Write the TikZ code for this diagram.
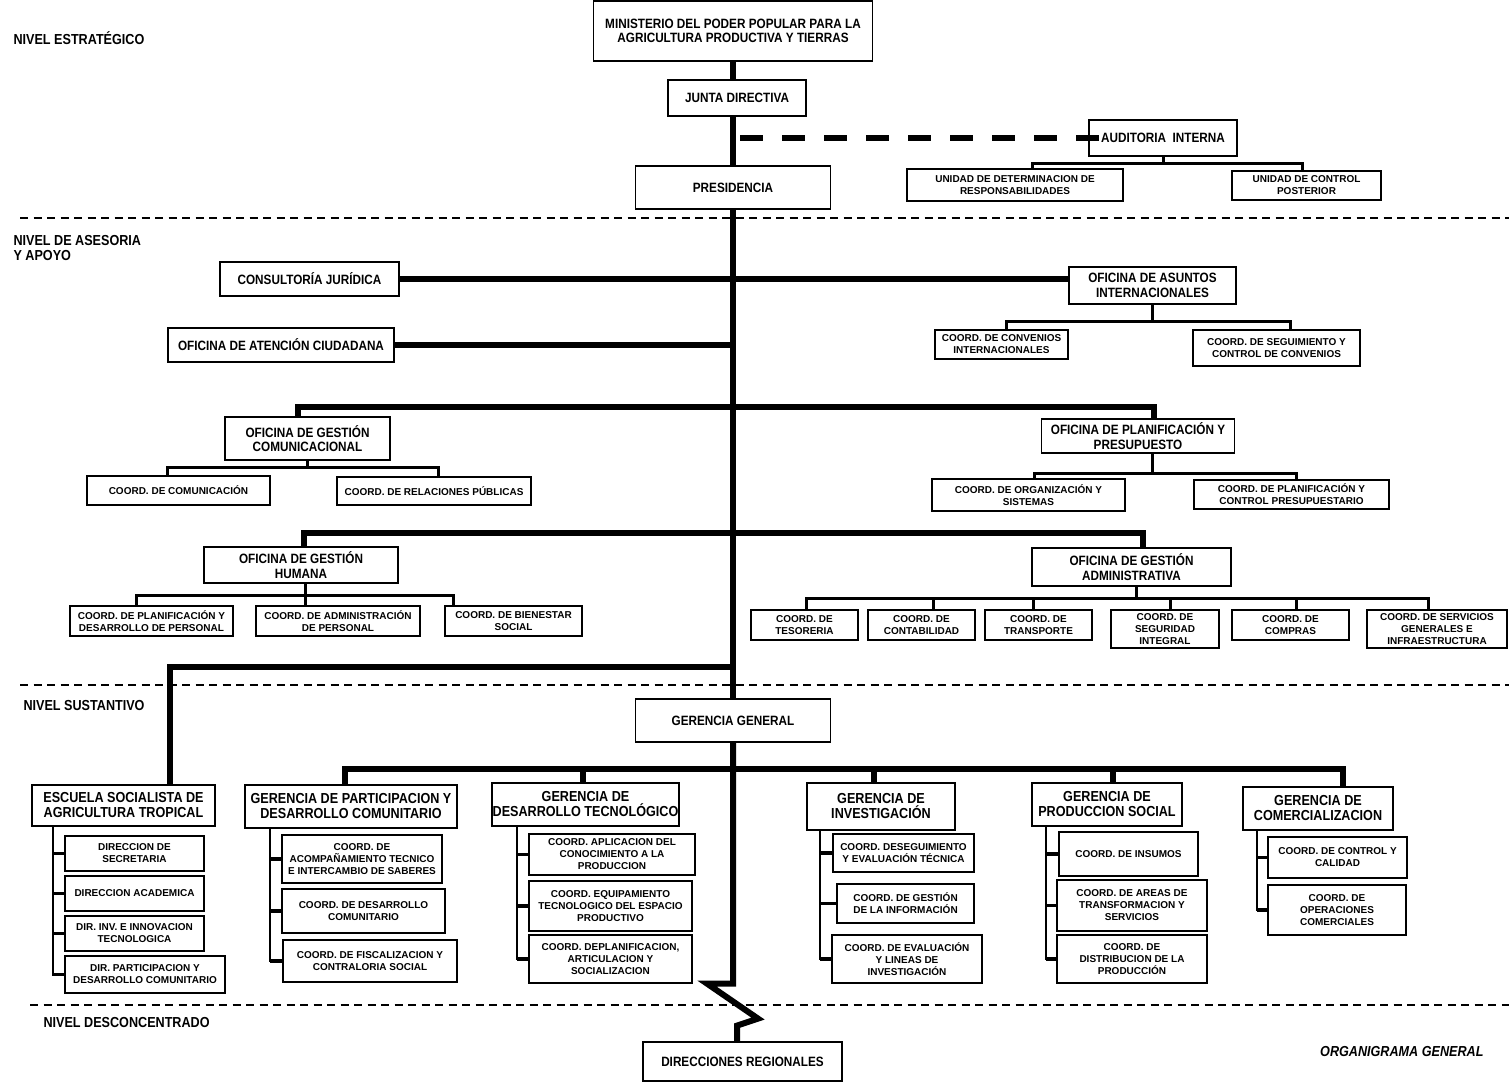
\documentclass[tikz,border=0pt]{standalone}
\usepackage{fontspec}
\setmainfont{Liberation Sans}
\newfontfamily\condensed{Liberation Sans}[FakeStretch=0.87]
\tikzset{
  unitbox/.style={
    draw,
    line width=1.2pt,
    fill=white,
    align=center,
    inner sep=0pt,
    font=\condensed\bfseries\fontsize{13.5}{14.5}\selectfont
  },
  gerbox/.style={
    unitbox,
    font=\condensed\bfseries\fontsize{14.5}{15}\selectfont
  },
  coordbox/.style={
    draw,
    line width=1.2pt,
    fill=white,
    align=center,
    inner sep=0pt,
    font=\bfseries\fontsize{10}{12}\selectfont
  },
  boxsize/.style 2 args={minimum width=#1pt, minimum height=#2pt},
  trunk/.style={line width=6pt},
  branch/.style={line width=3pt},
  stem/.style={line width=2.5pt},
  tick/.style={line width=3.5pt},
  auditlink/.style={line width=6pt, dash pattern=on 23pt off 19pt},
  levelline/.style={line width=1.6pt, dash pattern=on 8pt off 5.5pt},
  levellabel/.style={
    anchor=west,
    align=left,
    font=\condensed\bfseries\fontsize{14.5}{15.5}\selectfont
  }
}
\begin{document}
\begin{tikzpicture}[x=1pt, y=-1pt]
\useasboundingbox (0,0) rectangle (1509,1083);

% niveles
\draw[levelline] (20,218) -- (1509,218);
\draw[levelline] (20,685) -- (1509,685);
\draw[levelline] (30,1005) -- (1509,1005);
\node[levellabel] (lvlest) at (10,38) {NIVEL ESTRATÉGICO};
\node[levellabel] (lvlase) at (10,248) {NIVEL DE ASESORIA\\Y APOYO};
\node[levellabel] (lvlsus) at (20,706) {NIVEL SUSTANTIVO};
\node[levellabel] (lvldes) at (40,1022) {NIVEL DESCONCENTRADO};
\node[levellabel, anchor=east, font=\condensed\bfseries\itshape\fontsize{14.5}{15.5}\selectfont] (orglabel) at (1487,1051) {ORGANIGRAMA GENERAL};

% nivel estrategico
\node[unitbox, boxsize={279}{60}] (minis) at (733,31) {MINISTERIO DEL PODER POPULAR PARA LA\\AGRICULTURA PRODUCTIVA Y TIERRAS};
\node[unitbox, boxsize={138}{36}] (junta) at (737,98) {JUNTA DIRECTIVA};
\node[unitbox, boxsize={195}{43}] (pres) at (733,187.5) {PRESIDENCIA};
\node[unitbox, boxsize={148}{36}] (audit) at (1163,138) {AUDITORIA\ \ INTERNA};
\node[coordbox, boxsize={216}{32}] (udet) at (1015,185) {UNIDAD DE DETERMINACION DE\\RESPONSABILIDADES};
\node[coordbox, boxsize={149}{29}] (uctrl) at (1306.5,185.5) {UNIDAD DE CONTROL\\POSTERIOR};

% nivel de asesoria y apoyo
\node[unitbox, boxsize={179}{34}] (cjur) at (309.5,279) {CONSULTORÍA JURÍDICA};
\node[unitbox, boxsize={167}{37}] (oai) at (1152.5,285.5) {OFICINA DE ASUNTOS\\INTERNACIONALES};
\node[coordbox, boxsize={133}{29}] (cconv) at (1001.5,344.5) {COORD. DE CONVENIOS\\INTERNACIONALES};
\node[coordbox, boxsize={167}{36}] (cseg) at (1276.5,348) {COORD. DE SEGUIMIENTO Y\\CONTROL DE CONVENIOS};
\node[unitbox, boxsize={226}{34}] (oac) at (281,345) {OFICINA DE ATENCIÓN CIUDADANA};

\node[unitbox, boxsize={165}{43}] (ogc) at (307.5,438.5) {OFICINA DE GESTIÓN\\COMUNICACIONAL};
\node[coordbox, boxsize={183}{29}] (ccom) at (178.5,490.5) {COORD. DE COMUNICACIÓN};
\node[coordbox, boxsize={194}{28}] (crp) at (434,491) {COORD. DE RELACIONES PÚBLICAS};
\node[unitbox, boxsize={193}{34}] (opp) at (1138,436) {OFICINA DE PLANIFICACIÓN Y\\PRESUPUESTO};
\node[coordbox, boxsize={193}{32}] (corg) at (1028.5,495) {COORD. DE ORGANIZACIÓN Y\\SISTEMAS};
\node[coordbox, boxsize={195}{29}] (cpcp) at (1291.5,494.5) {COORD. DE PLANIFICACIÓN Y\\CONTROL PRESUPUESTARIO};

\node[unitbox, boxsize={194}{36}] (ogh) at (301,565) {OFICINA DE GESTIÓN\\HUMANA};
\node[coordbox, boxsize={163}{30}] (cpdp) at (151.5,621) {COORD. DE PLANIFICACIÓN Y\\DESARROLLO DE PERSONAL};
\node[coordbox, boxsize={164}{30}] (cadp) at (338,621) {COORD. DE ADMINISTRACIÓN\\DE PERSONAL};
\node[coordbox, boxsize={137}{30}] (cbs) at (513.5,621) {COORD. DE BIENESTAR\\SOCIAL};
\node[unitbox, boxsize={199}{38}] (oga) at (1131.5,567) {OFICINA DE GESTIÓN\\ADMINISTRATIVA};
\node[coordbox, boxsize={107}{30}] (ctes) at (804.5,625) {COORD. DE\\TESORERIA};
\node[coordbox, boxsize={107}{30}] (ccont) at (921.5,625) {COORD. DE\\CONTABILIDAD};
\node[coordbox, boxsize={107}{30}] (ctrans) at (1038.5,625) {COORD. DE\\TRANSPORTE};
\node[coordbox, boxsize={108}{38}] (csegi) at (1165,629) {COORD. DE\\SEGURIDAD\\INTEGRAL};
\node[coordbox, boxsize={117}{30}] (ccomp) at (1290.5,625) {COORD. DE\\COMPRAS};
\node[coordbox, boxsize={140}{38}] (cserv) at (1437,629) {COORD. DE SERVICIOS\\GENERALES E\\INFRAESTRUCTURA};

% nivel sustantivo
\node[unitbox, boxsize={195}{43}] (gg) at (733,720.5) {GERENCIA GENERAL};

\node[gerbox, boxsize={183}{41}] (escuela) at (123.5,805.5) {ESCUELA SOCIALISTA DE\\AGRICULTURA TROPICAL};
\node[coordbox, boxsize={139}{35}] (dsec) at (134.5,853.5) {DIRECCION DE\\SECRETARIA};
\node[coordbox, boxsize={139}{35}] (dacad) at (134.5,893.5) {DIRECCION ACADEMICA};
\node[coordbox, boxsize={139}{35}] (dinv) at (134.5,933.5) {DIR. INV. E INNOVACION\\TECNOLOGICA};
\node[coordbox, boxsize={160}{37}] (dpart) at (145,974.5) {DIR. PARTICIPACION Y\\DESARROLLO COMUNITARIO};

\node[gerbox, boxsize={212}{43}] (gpdc) at (351,806.5) {GERENCIA DE PARTICIPACION Y\\DESARROLLO COMUNITARIO};
\node[coordbox, boxsize={160}{48}] (cacomp) at (362,859) {COORD. DE\\ACOMPAÑAMIENTO TECNICO\\E INTERCAMBIO DE SABERES};
\node[coordbox, boxsize={163}{44}] (cdes) at (363.5,911) {COORD. DE DESARROLLO\\COMUNITARIO};
\node[coordbox, boxsize={174}{42}] (cfisc) at (370,961) {COORD. DE FISCALIZACION Y\\CONTRALORIA SOCIAL};

\node[gerbox, boxsize={187}{43}] (gdt) at (585.5,804.5) {GERENCIA DE\\DESARROLLO TECNOLÓGICO};
\node[coordbox, boxsize={166}{41}] (capl) at (612,854.5) {COORD. APLICACION DEL\\CONOCIMIENTO A LA\\PRODUCCION};
\node[coordbox, boxsize={163}{50}] (cequip) at (610.5,906) {COORD. EQUIPAMIENTO\\TECNOLOGICO DEL ESPACIO\\PRODUCTIVO};
\node[coordbox, boxsize={163}{48}] (cdepl) at (610.5,959) {COORD. DEPLANIFICACION,\\ARTICULACION Y\\SOCIALIZACION};

\node[gerbox, boxsize={148}{47}] (ginv) at (881,806.5) {GERENCIA DE\\INVESTIGACIÓN};
\node[coordbox, boxsize={141}{38}] (cseguim) at (903.5,853) {COORD. DESEGUIMIENTO\\Y EVALUACIÓN TÉCNICA};
\node[coordbox, boxsize={137}{39}] (cgest) at (905.5,903.5) {COORD. DE GESTIÓN\\DE LA INFORMACIÓN};
\node[coordbox, boxsize={150}{48}] (ceval) at (907,959) {COORD. DE EVALUACIÓN\\Y LINEAS DE\\INVESTIGACIÓN};

\node[gerbox, boxsize={150}{43}] (gps) at (1107,804.5) {GERENCIA DE\\PRODUCCION SOCIAL};
\node[coordbox, boxsize={139}{44}] (cins) at (1128.5,854) {COORD. DE INSUMOS};
\node[coordbox, boxsize={150}{51}] (careas) at (1132,905.5) {COORD. DE AREAS DE\\TRANSFORMACION Y\\SERVICIOS};
\node[coordbox, boxsize={150}{48}] (cdist) at (1132,959) {COORD. DE\\DISTRIBUCION DE LA\\PRODUCCIÓN};

\node[gerbox, boxsize={150}{43}] (gcom) at (1318,808.5) {GERENCIA DE\\COMERCIALIZACION};
\node[coordbox, boxsize={139}{41}] (ccal) at (1337.5,857.5) {COORD. DE CONTROL Y\\CALIDAD};
\node[coordbox, boxsize={138}{50}] (coper) at (1337,910) {COORD. DE\\OPERACIONES\\COMERCIALES};

% nivel desconcentrado
\node[unitbox, boxsize={199}{39}] (dreg) at (742.5,1061.5) {DIRECCIONES REGIONALES};

% barras
\coordinate (bar1) at (733,407);
\coordinate (bar2) at (733,533);
\coordinate (sustbar) at (733,667);
\coordinate (gerbus) at (733,769);

\draw[trunk] (minis.south) -- (minis.south |- junta.north);
\draw[trunk] (pres.north |- junta.south) -- (pres.north);
\draw[trunk] (pres.south) -- (gg.north);
\draw[auditlink] ([xshift=7pt]pres.north |- audit.west) -- ([xshift=11pt]audit.west);
\draw[branch] (audit.south) -- ++(0,7) coordinate (auditbus);
\draw[branch] ([xshift=17pt]udet.north) |- (auditbus) -| ([xshift=-4.5pt]uctrl.north);

\draw[trunk] (cjur.east) -- (cjur.east -| oai.west);
\draw[trunk] (oac.east) -- (oac.east -| pres.south);
\draw[branch] (oai.south) -- ++(0,17) coordinate (oaibus);
\draw[branch] ([xshift=4.5pt]cconv.north) |- (oaibus) -| ([xshift=13.5pt]cseg.north);

\draw[trunk] ([xshift=-10pt]ogc.north) |- (bar1) -| ([xshift=16pt]opp.north);
\draw[branch] (ogc.south) -- ++(0,7) coordinate (ogcbus);
\draw[branch] ([xshift=-11.5pt]ccom.north) |- (ogcbus) -| ([xshift=4pt]crp.north);
\draw[branch] ([xshift=14pt]opp.south) -- ++(0,20) coordinate (oppbus);
\draw[branch] ([xshift=5.5pt]corg.north) |- (oppbus) -| ([xshift=4.5pt]cpcp.north);

\draw[trunk] ([xshift=3pt]ogh.north) |- (bar2) -| ([xshift=11.5pt]oga.north);
\draw[branch] ([xshift=4pt]ogh.south) -- ([xshift=4pt]ogh.south |- cadp.north);
\draw[branch] ([xshift=-15.5pt]cpdp.north) -- ++(0,-10) -| ([xshift=-60.5pt]cbs.north);
\draw[branch] ([xshift=4.5pt]oga.south) -- ++(0,12) coordinate (ogabus);
\draw[branch] ([xshift=1.5pt]ctes.north) |- (ogabus) -| ([xshift=-9pt]cserv.north);
\draw[branch] ([xshift=11.5pt]ccont.north) -- ([xshift=11.5pt]ccont.north |- ogabus);
\draw[branch] ([xshift=-5.5pt]ctrans.north) -- ([xshift=-5.5pt]ctrans.north |- ogabus);
\draw[branch] ([xshift=5pt]csegi.north) -- ([xshift=5pt]csegi.north |- ogabus);
\draw[branch] ([xshift=5.5pt]ccomp.north) -- ([xshift=5.5pt]ccomp.north |- ogabus);

\draw[trunk] (sustbar) -| ([xshift=46.5pt]escuela.north);
\draw[trunk] ([xshift=-6pt]gpdc.north) |- (gerbus) -| ([xshift=25pt]gcom.north);
\draw[trunk] ([xshift=-2.5pt]gdt.north) -- ([xshift=-2.5pt]gdt.north |- gerbus);
\draw[trunk] ([xshift=-7pt]ginv.north) -- ([xshift=-7pt]ginv.north |- gerbus);
\draw[trunk] ([xshift=6pt]gps.north) -- ([xshift=6pt]gps.north |- gerbus);
\draw[trunk] (gg.south) -- ++(0,241) -- ++(-26,0) -- ++(51,35) -- ++(-21,7) -- ([xshift=-5.5pt]dreg.north);

% peines
\draw[stem] ([xshift=-70.5pt]escuela.south) coordinate (escstem) |- (dpart.west);
\draw[tick] (dsec.west) -- (dsec.west -| escstem);
\draw[tick] (dacad.west) -- (dacad.west -| escstem);
\draw[tick] (dinv.west) -- (dinv.west -| escstem);
\draw[tick] (dpart.west) -- (dpart.west -| escstem);

\draw[stem] ([xshift=-81pt]gpdc.south) coordinate (pdcstem) |- (cfisc.west);
\draw[tick] (cacomp.west) -- (cacomp.west -| pdcstem);
\draw[tick] (cdes.west) -- (cdes.west -| pdcstem);
\draw[tick] (cfisc.west) -- (cfisc.west -| pdcstem);

\draw[stem] ([xshift=-68.5pt]gdt.south) coordinate (dtstem) |- (cdepl.west);
\draw[tick] (capl.west) -- (capl.west -| dtstem);
\draw[tick] (cequip.west) -- (cequip.west -| dtstem);
\draw[tick] (cdepl.west) -- (cdepl.west -| dtstem);

\draw[stem] ([xshift=-61pt]ginv.south) coordinate (invstem) |- (ceval.west);
\draw[tick] (cseguim.west) -- (cseguim.west -| invstem);
\draw[tick] (cgest.west) -- (cgest.west -| invstem);
\draw[tick] (ceval.west) -- (ceval.west -| invstem);

\draw[stem] ([xshift=-61pt]gps.south) coordinate (psstem) |- (cdist.west);
\draw[tick] (cins.west) -- (cins.west -| psstem);
\draw[tick] (careas.west) -- (careas.west -| psstem);
\draw[tick] (cdist.west) -- (cdist.west -| psstem);

\draw[stem] ([xshift=-61pt]gcom.south) coordinate (comstem) |- (coper.west);
\draw[tick] (ccal.west) -- (ccal.west -| comstem);
\draw[tick] (coper.west) -- (coper.west -| comstem);

\end{tikzpicture}
\end{document}
